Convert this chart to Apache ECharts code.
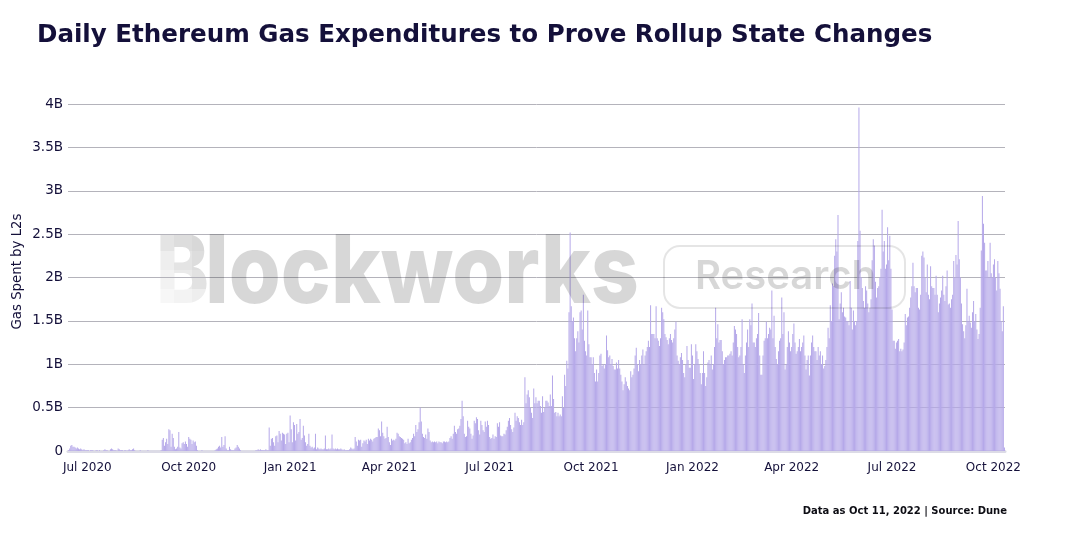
<!DOCTYPE html>
<html>
<head>
<meta charset="utf-8">
<title>Daily Ethereum Gas Expenditures to Prove Rollup State Changes</title>
<script src="https://cdn.jsdelivr.net/npm/echarts@6/dist/echarts.min.js"></script>
<style>
  html, body { margin: 0; padding: 0; background: #fff; }
  #chart { width: 1080px; height: 539px; }
</style>
</head>
<body>
<div id="chart"></div>
<script>
// gas spent per day, in hundredths of a billion, one list per month
var jun2020 = [1,3,6,7,5,5,4,3,4,3,2,3,2,1,2,1,1]; // data starts Jun 14
var jul2020 = [1,1,0,1,1,1,0,0,1,1,0,1,0,0,0,1,2,1,1,0,0,2,3,2,1,1,1,0,3,2,1];
var aug2020 = [1,1,0,1,1,0,1,2,1,1,2,3,1,0,0,0,0,1,0,0,0,0,0,0,1,0,0,0,0,0,0];
var sep2020 = [0,0,0,0,0,1,13,15,6,10,14,8,25,24,5,20,15,5,2,3,5,22,4,3,9,10,8,11,8,5];
var oct2020 = [16,14,13,8,12,10,11,6,1,0,0,0,1,0,0,0,0,0,0,0,0,0,0,0,1,2,3,5,6,4,16];
var nov2020 = [5,7,17,3,1,1,5,2,1,1,1,3,4,7,5,3,1,0,0,0,0,0,0,0,0,0,0,0,0,0];
var dec2020 = [1,1,2,1,2,1,1,1,1,2,1,1,27,6,14,15,10,6,17,18,10,23,20,12,21,20,19,8,20,21,10];
var jan2021 = [41,25,10,33,30,12,31,20,22,37,13,15,29,18,10,6,8,20,6,4,5,3,4,20,2,4,3,2,3,2,2];
var feb2021 = [3,18,2,2,3,2,3,19,3,2,3,2,3,2,2,3,2,1,2,1,1,1,1,2,4,3,2,3];
var mar2021 = [16,11,6,13,12,13,5,9,12,11,13,8,14,12,14,13,11,14,15,16,16,26,24,17,34,21,17,14,15,28,16];
var apr2021 = [10,7,14,12,13,12,14,21,20,17,16,15,14,13,9,10,8,14,9,10,13,15,20,17,30,22,25,33,50,34];
var may2021 = [20,16,15,19,14,26,22,12,10,11,10,11,10,11,9,11,10,10,9,11,11,10,11,10,11,15,17,14,20,29,22];
var jun2021 = [20,25,26,29,37,58,40,20,16,17,35,28,26,20,14,18,35,32,39,37,24,19,35,30,24,22,34,28,35,30];
var jul2021 = [16,14,15,19,14,17,16,32,28,33,18,17,17,20,19,24,28,35,38,30,25,22,27,44,35,40,38,33,30,36,30];
var aug2021 = [33,85,55,65,70,62,50,44,38,72,55,62,55,58,58,52,44,63,45,50,58,58,56,52,65,52,87,60,44,45,40];
var sep2021 = [44,40,42,40,63,50,88,75,104,95,160,252,167,150,154,130,115,130,138,125,160,162,140,180,127,115,110,162,123,108];
var oct2021 = [108,100,108,90,80,94,80,90,110,112,98,100,95,100,133,116,108,110,100,106,98,94,94,102,95,105,95,88,80,70,77];
var nov2021 = [85,80,75,72,70,92,85,88,95,110,119,100,92,105,100,110,117,100,110,115,120,127,120,168,135,135,135,130,167,130];
var dec2021 = [127,121,130,165,160,152,135,131,128,123,130,135,128,125,130,140,149,110,104,100,108,113,105,90,85,100,121,105,96,96,123];
var jan2022 = [110,83,100,123,115,106,100,90,77,90,115,90,75,85,102,105,100,110,94,100,120,165,130,146,125,128,128,115,100,105,108];
var feb2022 = [108,110,110,112,115,110,125,144,140,135,120,108,110,120,152,100,90,110,125,140,120,152,145,170,125,125,120,130];
var mar2022 = [135,159,110,88,88,110,127,130,149,130,135,142,140,185,130,156,120,106,100,115,127,130,177,135,160,94,100,120,138,125,115];
var apr2022 = [120,135,147,125,112,115,120,129,115,120,125,133,110,94,105,110,87,110,125,133,120,115,115,105,120,110,115,100,110,95];
var may2022 = [98,105,120,142,130,168,150,193,190,225,244,230,272,152,170,183,160,165,155,154,150,150,145,196,165,140,162,150,145,150,242];
var jun2022 = [396,254,200,188,173,165,190,185,170,160,165,175,220,244,237,195,177,188,190,200,210,278,230,242,210,215,258,220,248,210];
var jul2022 = [163,127,127,118,125,127,129,115,118,115,117,125,158,145,154,155,165,177,190,217,190,183,188,188,165,163,180,225,230,223,200];
var aug2022 = [183,215,180,175,213,190,188,188,180,202,180,160,170,177,185,202,180,173,190,208,169,170,165,175,180,219,200,226,215,265,221];
var sep2022 = [200,170,146,138,130,145,187,150,156,148,142,160,173,150,158,140,129,135,165,231,294,262,240,208,208,219,200,240,205,200];
var oct2022 = [215,221,200,185,219,205,187,150,138,167,4];

var months = [
    [2020, 6, 14, jun2020], [2020, 7, 1, jul2020], [2020, 8, 1, aug2020], [2020, 9, 1, sep2020],
    [2020, 10, 1, oct2020], [2020, 11, 1, nov2020], [2020, 12, 1, dec2020], [2021, 1, 1, jan2021],
    [2021, 2, 1, feb2021], [2021, 3, 1, mar2021], [2021, 4, 1, apr2021], [2021, 5, 1, may2021],
    [2021, 6, 1, jun2021], [2021, 7, 1, jul2021], [2021, 8, 1, aug2021], [2021, 9, 1, sep2021],
    [2021, 10, 1, oct2021], [2021, 11, 1, nov2021], [2021, 12, 1, dec2021], [2022, 1, 1, jan2022],
    [2022, 2, 1, feb2022], [2022, 3, 1, mar2022], [2022, 4, 1, apr2022], [2022, 5, 1, may2022],
    [2022, 6, 1, jun2022], [2022, 7, 1, jul2022], [2022, 8, 1, aug2022], [2022, 9, 1, sep2022],
    [2022, 10, 1, oct2022]
];
var monthNames = ['Jan', 'Feb', 'Mar', 'Apr', 'May', 'Jun', 'Jul', 'Aug', 'Sep', 'Oct', 'Nov', 'Dec'];

var days = [];
var gasSpent = [];
months.forEach(function (m) {
    var last = m[0] === 2022 && m[1] === 10 ? 11 : new Date(m[0], m[1], 0).getDate();
    for (var d = m[2]; d <= last; d++) {
        days.push(monthNames[m[1] - 1] + ' ' + d + ' ' + m[0]);
        var v = m[3][d - m[2]];
        gasSpent.push(v === undefined ? 0 : v * 1e7);
    }
});

function isQuarterStart(label) {
    var p = label.split(' ');
    return p[1] === '1' && ['Jan', 'Apr', 'Jul', 'Oct'].indexOf(p[0]) >= 0;
}

var ink = '#14103a';
var mark = 'rgba(0,0,0,0.155)';

// logo watermark: the B is lightened by white tiles, the rest sits over the bars
var logoTiles = [
    [0.30, 0.13, 0.00],
    [0.56, 0.30, 0.13],
    [0.66, 0.46, 0.25],
    [0.80, 0.70, 0.56]
];
var watermark = [
    { type: 'text', z: -2, silent: true, x: 156, y: 227, scaleX: 0.84,
      style: { text: 'B', fontFamily: 'Inter', fontWeight: 800, fontSize: 95, fill: '#d8d8d8' } },
    { type: 'text', z: 100, silent: true, x: 205, y: 227, scaleX: 0.885,
      style: { text: 'lockworks', fontFamily: 'Inter', fontWeight: 800, fontSize: 95, fill: mark } },
    { type: 'rect', z: 100, silent: true,
      shape: { x: 664, y: 246, width: 241, height: 62, r: 16 },
      style: { fill: 'none', stroke: 'rgba(0,0,0,0.1)', lineWidth: 2 } },
    { type: 'text', z: 100, silent: true, x: 695, y: 257,
      style: { text: 'Research', fontFamily: 'Inter', fontWeight: 600, fontSize: 40, fill: mark } }
];
logoTiles.forEach(function (row, r) {
    row.forEach(function (a, c) {
        watermark.push({ type: 'rect', z: -1, silent: true,
            shape: { x: 156 + c * 18, y: 232 + r * 19, width: 18, height: 19 },
            style: { fill: 'rgba(255,255,255,' + a + ')' } });
    });
});

var chart = echarts.init(document.getElementById('chart'));

var option = {
    animation: false,
    backgroundColor: '#fff',
    textStyle: { fontFamily: 'DejaVu Sans' },
    title: [
        {
            text: 'Daily Ethereum Gas Expenditures to Prove Rollup State Changes',
            left: 32, top: 18,
            textStyle: { color: ink, fontFamily: 'DejaVu Sans', fontWeight: 'bold', fontSize: 24.56 }
        },
        {
            text: 'Data as Oct 11, 2022 | Source: Dune',
            right: 68, top: 501,
            textStyle: { color: '#0d0d14', fontFamily: 'DejaVu Sans', fontWeight: 'bold', fontSize: 10 }
        }
    ],
    grid: { left: 68, right: 75, top: 104, bottom: 88, outerBoundsMode: 'none' },
    xAxis: {
        type: 'category',
        data: days,
        axisLine: { lineStyle: { color: '#dcdbe6', width: 3 } },
        axisTick: {
            alignWithLabel: true, length: 6,
            lineStyle: { color: '#d5d5dc', width: 1.5 },
            interval: function (i, v) { return isQuarterStart(v); }
        },
        axisLabel: {
            color: ink, fontSize: 12, margin: 11,
            interval: function (i, v) { return isQuarterStart(v); },
            formatter: function (v) { var p = v.split(' '); return p[0] + ' ' + p[2]; }
        }
    },
    yAxis: {
        type: 'value',
        min: 0, max: 4e9, interval: 5e8,
        name: 'Gas Spent by L2s',
        nameLocation: 'middle',
        nameGap: 44,
        nameMoveOverlap: false,
        nameTextStyle: { color: ink, fontSize: 13.3, padding: [0, 0, 0, 12] },
        axisLine: { show: false },
        axisTick: { show: false },
        axisLabel: {
            color: ink, fontSize: 13.5, margin: 5,
            formatter: function (v) { return v === 0 ? '0' : (v / 1e9) + 'B'; }
        },
        splitLine: { lineStyle: { color: '#b4b3bb', width: 1 } }
    },
    series: [
        {
            type: 'bar',
            data: gasSpent,
            barWidth: 0.9,
            itemStyle: { color: '#b5a8e9' }
        }
    ],
    graphic: watermark
};

chart.setOption(option);

window.onresize = chart.resize;
</script>
</body>
</html>
